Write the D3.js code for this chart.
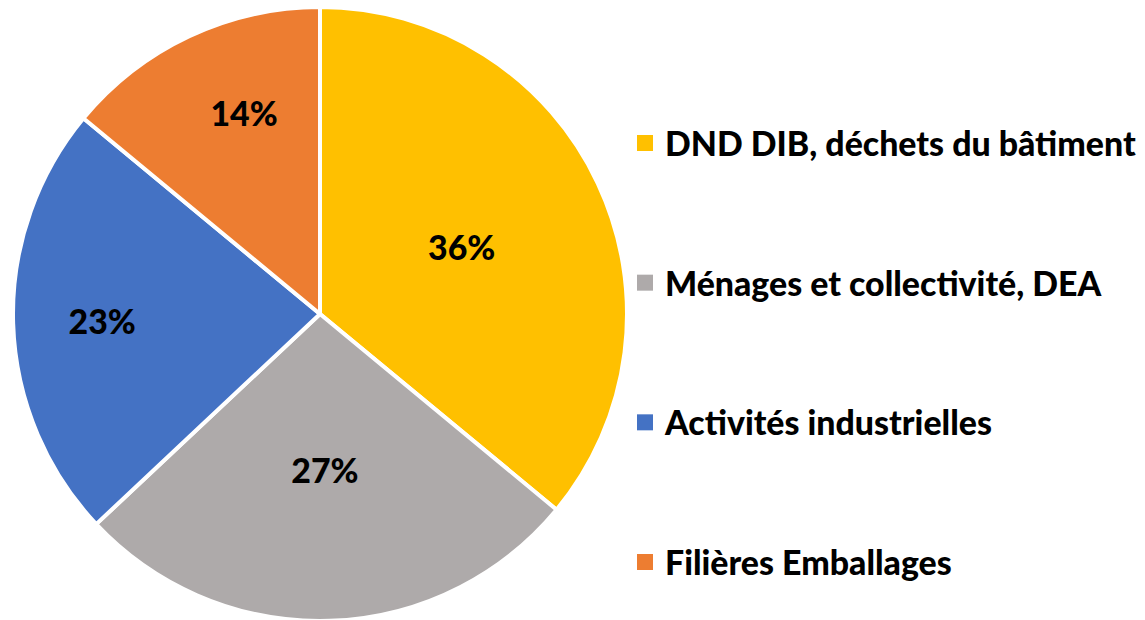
<!DOCTYPE html>
<html>
<head>
<meta charset="utf-8">
<script src="https://cdn.jsdelivr.net/npm/d3@7"></script>
<style>
  body { margin: 0; background: #fff; }
  text { font-family: Lato, "Open Sans", sans-serif; font-weight: 900; fill: #000; }
</style>
</head>
<body>
<svg id="chart" width="1145" height="620"></svg>
<script>
// values
const categories = ["DND DIB, déchets du bâtiment", "Ménages et collectivité, DEA", "Activités industrielles", "Filières Emballages"];
const shares = [36, 27, 23, 14];
const colors = ["#FFC000", "#AEAAAA", "#4472C4", "#ED7D31"];

// label spot: part of the radius + turn in degrees (labels were nudged by hand)
const labelPos = [0.51, 0.51, 0.71, 0.70];
const labelTurn = [0, 0, 0, 4.5];

const width = 1145, height = 620;
const cx = 320, cy = 314, radius = 307;

const svg = d3.select("#chart");
const g = svg.append("g").attr("transform", `translate(${cx},${cy})`);

const pie = d3.pie().sort(null).value(d => d)(shares);
const arc = d3.arc().innerRadius(0).outerRadius(radius);

g.selectAll("path")
  .data(pie)
  .enter()
  .append("path")
  .attr("d", arc)
  .attr("fill", (d, i) => colors[i])
  .attr("stroke", "#fff")
  .attr("stroke-width", 4)
  .attr("stroke-linejoin", "round");

g.selectAll("text.pct")
  .data(pie)
  .enter()
  .append("text")
  .attr("class", "pct")
  .attr("text-anchor", "middle")
  .attr("dominant-baseline", "central")
  .style("font-size", "33px")
  .attr("transform", (d, i) => {
    const a = (d.startAngle + d.endAngle) / 2 + labelTurn[i] * Math.PI / 180;
    const r = radius * labelPos[i];
    return `translate(${Math.sin(a) * r},${-Math.cos(a) * r})`;
  })
  .text(d => d.data + "%");

// legend
const legendY = d3.scalePoint().domain(categories).range([143, 562]);
const legend = svg.append("g");

const item = legend.selectAll("g")
  .data(categories)
  .enter()
  .append("g")
  .attr("transform", d => `translate(637,${legendY(d)})`);

item.append("rect")
  .attr("x", 0).attr("y", -8)
  .attr("width", 16).attr("height", 16)
  .attr("fill", (d, i) => colors[i]);

const labels = item.append("text")
  .attr("x", 28)
  .attr("y", 0)
  .attr("dominant-baseline", "central")
  .style("font-size", "33px")
  .text(d => d);

// fit the font so the longest entry spans like the original (~471px)
const w0 = labels.nodes()[0].getComputedTextLength();
const fs = 33 * 471 / w0;
labels.style("font-size", fs + "px");
g.selectAll("text.pct").style("font-size", fs + "px");
</script>
</body>
</html>
